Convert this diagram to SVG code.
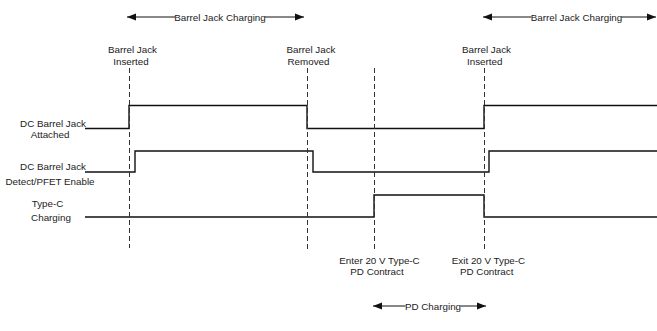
<svg xmlns="http://www.w3.org/2000/svg" width="657" height="331" viewBox="0 0 657 331">
<style>
text{font-family:"Liberation Sans",Arial,sans-serif;font-size:9.8px;fill:#222}
.m{text-anchor:middle}
.sig{fill:none;stroke:#111;stroke-width:1.4}
.dash{fill:none;stroke:#333;stroke-width:1;stroke-dasharray:5 3}
.arr{fill:none;stroke:#111;stroke-width:1}
</style>
<defs>
<marker id="ah" markerUnits="userSpaceOnUse" markerWidth="10" markerHeight="8" refX="9" refY="4" orient="auto-start-reverse">
<path d="M0,0.5 L9,4 L0,7.5 Z" fill="#111"/>
</marker>
</defs>
<rect width="657" height="331" fill="#fff"/>
<g id="labels-left">
<text class="m" x="53" y="127">DC Barrel Jack</text>
<text class="m" x="50" y="137.5">Attached</text>
<text class="m" x="53" y="170">DC Barrel Jack</text>
<text class="m" x="50" y="185">Detect/PFET Enable</text>
<text class="m" x="47.5" y="207">Type-C</text>
<text class="m" x="51" y="221">Charging</text>
</g>
<g id="events">
<text class="m" x="132.5" y="53">Barrel Jack</text>
<text class="m" x="131" y="65">Inserted</text>
<text class="m" x="311" y="53">Barrel Jack</text>
<text class="m" x="308.5" y="65">Removed</text>
<text class="m" x="486.5" y="53">Barrel Jack</text>
<text class="m" x="484.7" y="65">Inserted</text>
<text class="m" x="379.5" y="263.5">Enter 20 V Type-C</text>
<text class="m" x="377" y="275">PD Contract</text>
<text class="m" x="488.5" y="263.5">Exit 20 V Type-C</text>
<text class="m" x="486.7" y="275">PD Contract</text>
</g>
<g id="signals">
<path id="sig-attached" class="sig" d="M85,128.5 H129 V105.5 H307 V128.5 H484 V105.5 H657"/>
<path id="sig-detect" class="sig" d="M85,172 H135 V151 H313 V172 H489 V151 H657"/>
<path id="sig-typec" class="sig" d="M85,217 H374 V195 H484 V217 H657"/>
</g>
<g id="connectors">
<line class="dash" x1="129.5" y1="68" x2="129.5" y2="248"/>
<line class="dash" x1="307.5" y1="68" x2="307.5" y2="251"/>
<line class="dash" x1="374.5" y1="68" x2="374.5" y2="251"/>
<line class="dash" x1="484.5" y1="68" x2="484.5" y2="251"/>
<line class="arr" x1="175" y1="17" x2="127" y2="17" marker-end="url(#ah)"/>
<line class="arr" x1="265" y1="17" x2="304" y2="17" marker-end="url(#ah)"/>
<line class="arr" x1="531.5" y1="17" x2="483" y2="17" marker-end="url(#ah)"/>
<line class="arr" x1="621.5" y1="17" x2="656" y2="17" marker-end="url(#ah)"/>
<line class="arr" x1="405.5" y1="306" x2="373" y2="306" marker-end="url(#ah)"/>
<line class="arr" x1="460.5" y1="306" x2="486" y2="306" marker-end="url(#ah)"/>
</g>
<g id="spans">
<text class="m" x="220" y="20.5">Barrel Jack Charging</text>
<text class="m" x="576.5" y="20.5">Barrel Jack Charging</text>
<text class="m" x="433" y="309.5">PD Charging</text>
</g>
</svg>
